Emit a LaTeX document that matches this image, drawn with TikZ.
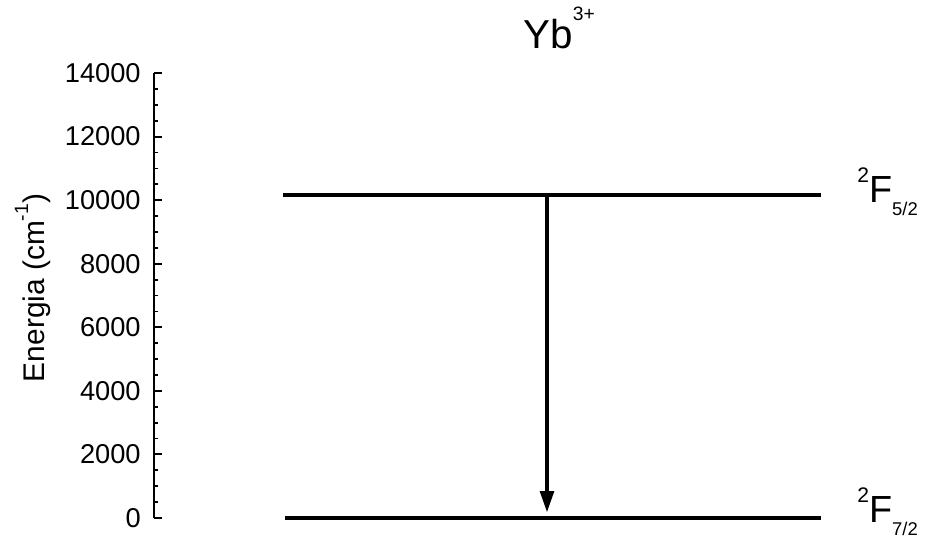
\documentclass[tikz,border=0pt]{standalone}
\usepackage{fontspec}
\setmainfont{Liberation Sans}
\usetikzlibrary{arrows.meta}

\newcommand{\sizept}[1]{\fontsize{#1}{#1}\selectfont}
\newcommand{\raisedtext}[3]{\raisebox{#1}{\sizept{#2}#3}}

\begin{document}
\begin{tikzpicture}[x=0.02cm, y=-0.02cm, line cap=butt,
    level/.style={line width=2.7pt},
    emis/.style={line width=2.7pt, -{Triangle[length=12.5pt, width=7.5pt]}},
    ticklab/.style={anchor=east, font=\sizept{15.5}, inner sep=0pt}]
  \def\ey{0.0317857}
  \useasboundingbox (0,0) rectangle (925,541);
  % axis
  \draw[line width=1.3pt] (154,73) -- (154,518);
  \foreach \v in {500,1000,...,13500}
    \draw[line width=1pt] (154,{518-\v*\ey}) -- ++(4,0);
  \foreach \v in {0,2000,...,14000} {
    \draw[line width=1.1pt] (154,{518-\v*\ey}) -- ++(8,0);
    \node[ticklab] (t\v) at (141,{518-\v*\ey}) {\v};
  }
  \node[rotate=90, anchor=base, font=\sizept{17}, inner sep=0pt] (ylab) at (44,288)
    {Energia (cm\raisedtext{9pt}{11}{-1})};
  % title
  \node[anchor=base west, font=\sizept{23}, inner sep=0pt] (ion) at (523,48)
    {Yb\raisedtext{15.5pt}{11}{3+}};
  % levels
  \coordinate (up-l) at (283,195);
  \coordinate (up-r) at (821,195);
  \coordinate (lo-l) at (285,518);
  \coordinate (lo-r) at (821,518);
  \draw[level] (up-l) -- (up-r);
  \draw[level] (lo-l) -- (lo-r);
  % emission
  \coordinate (em-top) at (547,195);
  \coordinate (em-bot) at (547,513);
  \draw[emis] (em-top) -- (em-bot);
  % labels
  \node[anchor=base west, font=\sizept{21.5}, inner sep=0pt] (f52) at (857,202)
    {\raisedtext{11pt}{12}{2}F\raisedtext{-7.4pt}{10.5}{5/2}};
  \node[anchor=base west, font=\sizept{21.5}, inner sep=0pt] (f72) at (857,522)
    {\raisedtext{11pt}{12}{2}F\raisedtext{-7.4pt}{10.5}{7/2}};
\end{tikzpicture}
\end{document}
